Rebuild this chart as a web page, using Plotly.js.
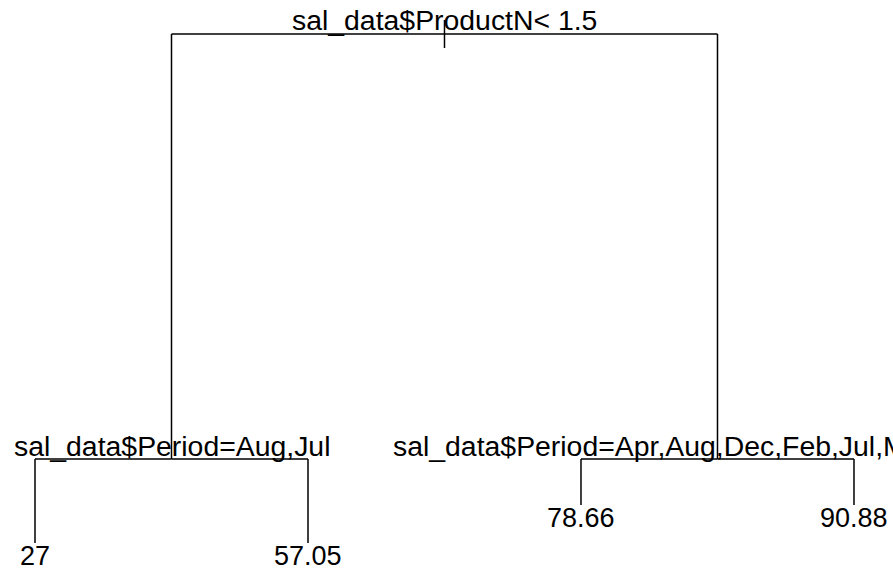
<!DOCTYPE html>
<html>
<head>
<meta charset="utf-8">
<script src="https://cdn.plot.ly/plotly-3.0.1.min.js"></script>
<style>html,body{margin:0;padding:0;background:#fff;}#chart{width:893px;height:572px;}</style>
</head>
<body>
<div id="chart"></div>
<script>
// rpart tree: split nodes (root, left child, right child) and leaves (left to right)
const splitLabels = ["sal_data$ProductN< 1.5", "sal_data$Period=Aug,Jul", "sal_data$Period=Apr,Aug,Dec,Feb,Jul,Mar,Oct,Sep"];
const splitHeights = [0.9406, 0.1976, 0.1976];
const leafLabels = ["27", "57.05", "78.66", "90.88"];
const leafValues = [27, 57.05, 78.66, 90.88];
const leafHeights = [0.0507, 0.0507, 0.1171, 0.1171];

// leaf x positions 1..4, internal nodes at midpoints of children
const leafX = leafValues.map((v, i) => i + 1);
const leftX = (leafX[0] + leafX[1]) / 2;
const rightX = (leafX[2] + leafX[3]) / 2;
const rootX = (leftX + rightX) / 2;
const splitX = [rootX, leftX, rightX];

const xs = [], ys = [];
function seg(x0, y0, x1, y1) { xs.push(x0, x1, null); ys.push(y0, y1, null); }
function branch(px, py, cx, cy) { seg(px, py, cx, py); seg(cx, py, cx, cy); }
// root stub
seg(rootX, splitHeights[0] + 0.0245, rootX, splitHeights[0] - 0.0245);
branch(rootX, splitHeights[0], leftX, splitHeights[1]);
branch(rootX, splitHeights[0], rightX, splitHeights[2]);
branch(leftX, splitHeights[1], leafX[0], leafHeights[0]);
branch(leftX, splitHeights[1], leafX[1], leafHeights[1]);
branch(rightX, splitHeights[2], leafX[2], leafHeights[2]);
branch(rightX, splitHeights[2], leafX[3], leafHeights[3]);

const family = "Liberation Sans, Arial, sans-serif";
const splitFont = {family: family, size: 28.4, color: "#000"};
const leafFont = {family: family, size: 27, color: "#000"};
const annotations = [];
splitLabels.forEach((t, i) => annotations.push({
  x: splitX[i], y: splitHeights[i], xref: "x", yref: "y", text: t, showarrow: false,
  xanchor: "center", yanchor: "bottom", yshift: i === 0 ? -3 : -4, font: splitFont, borderpad: 0
}));
leafLabels.forEach((t, i) => annotations.push({
  x: leafX[i], y: leafHeights[i], xref: "x", yref: "y", text: t, showarrow: false,
  xanchor: "center", yanchor: "top", yshift: 3, font: leafFont, borderpad: 0
}));

const trace = {x: xs, y: ys, mode: "lines", type: "scatter", line: {color: "#000", width: 1.5}, hoverinfo: "skip", cliponaxis: false};
const layout = {
  width: 893, height: 572, margin: {l: 0, r: 0, t: 0, b: 0},
  paper_bgcolor: "#fff", plot_bgcolor: "#fff", showlegend: false,
  xaxis: {range: [0.8718, 4.1429], visible: false, fixedrange: true},
  yaxis: {range: [0, 1], visible: false, fixedrange: true},
  annotations: annotations
};
Plotly.newPlot("chart", [trace], layout, {displayModeBar: false, staticPlot: true});
</script>
</body>
</html>
